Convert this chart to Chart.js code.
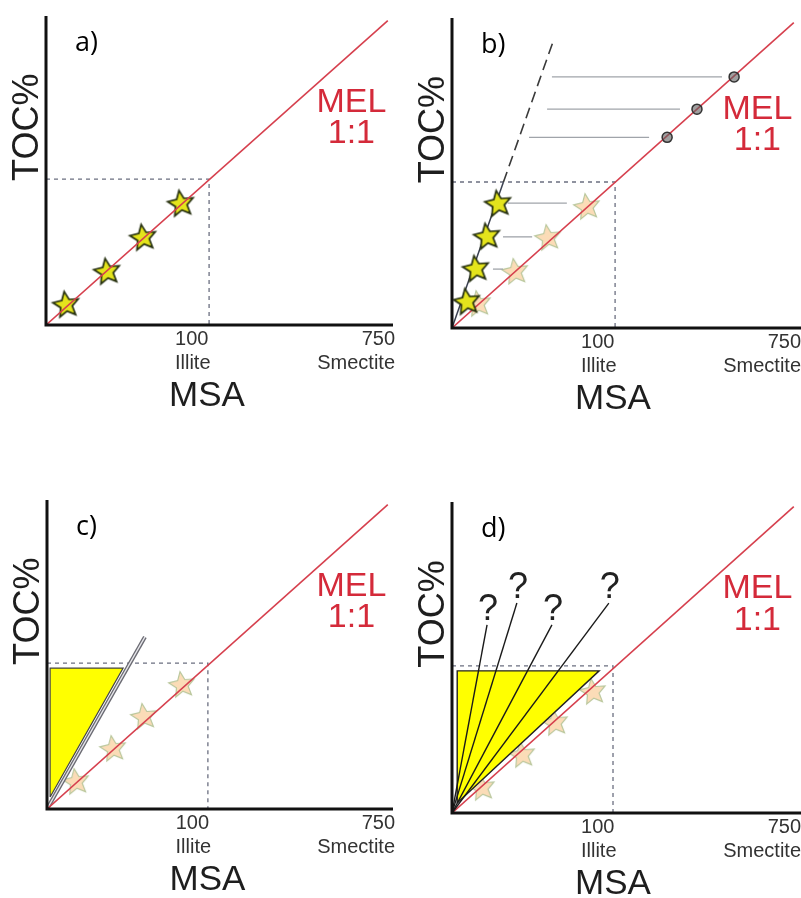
<!DOCTYPE html>
<html>
<head>
<meta charset="utf-8">
<script src="https://cdn.jsdelivr.net/npm/chart.js@4.4.1/dist/chart.umd.min.js"></script>
<style>
html,body{margin:0;padding:0;background:#fff;overflow:hidden;}
#wrap{position:relative;width:801px;height:898px;}
.pn{position:absolute;}
</style>
</head>
<body>
<div id="wrap">
  <div class="pn" style="left:0;top:0"><canvas id="ca" width="400" height="440"></canvas></div>
  <div class="pn" style="left:400px;top:0"><canvas id="cb" width="401" height="440"></canvas></div>
  <div class="pn" style="left:0;top:440px"><canvas id="cc" width="400" height="458"></canvas></div>
  <div class="pn" style="left:400px;top:440px"><canvas id="cd" width="401" height="458"></canvas></div>
</div>
<script>
// ---------- data (arbitrary schematic units, 0-100 on both axes) ----------
const panelLetters = ['a)', 'b)', 'c)', 'd)'];
const xTitle = 'MSA';
const yTitle = 'TOC%';
const xTickValues = [42, 100];
const xTickNumbers = ['100', '750'];
const xTickMinerals = ['Illite', 'Smectite'];
const melText = ['MEL', '1:1'];

// MEL 1:1 line
const melX = [0, 98.5];
const melY = [0, 98.5];

// dashed guide (corner at Illite reference)
const guideX = [47, 47, 46.5, 46.4];
const guideY = [47.2, 47.1, 47.2, 47.3];

// MEL label anchor per panel (x, y of "MEL" and "1:1")
const melLabelX = [88, 88, 88, 88];
const melLabelY = [72, 70.5, 72, 72];
const oneToOneY = [62, 60.5, 62, 62];

// a) samples on the 1:1 line
const aStarX = [5.8, 17.6, 28.0, 38.9];
const aStarY = [6.5, 17.2, 28.2, 39.2];

// b) samples shifted off the MEL line
const bShiftX = [4.3, 6.9, 10.1, 13.3];
const bShiftY = [8.4, 19.0, 29.4, 40.0];
const bOrigX = [7.5, 18.2, 27.7, 38.9];
const bOrigY = [7.7, 18.1, 29.0, 39.0];
const bSteepSolidX = [0, 14.8];
const bSteepSolidY = [0, 47];
const bSteepDashX = [14.8, 29.1];
const bSteepDashY = [47, 92.3];
const bLowConnY = [19.0, 29.4, 40.3];
const bLowConnX0 = [11.8, 14.7, 16.1];
const bLowConnX1 = [14.7, 23.1, 33.1];
const bHighConnY = [61.5, 70.6, 81.0];
const bHighConnX0 = [22.2, 27.4, 28.8];
const bHighConnX1 = [56.8, 65.7, 77.8];
const bCircleX = [62.0, 70.6, 81.3];
const bCircleY = [61.5, 70.6, 81.0];

// c) enriched field
const cTriX = [0.9, 0.9, 22.0, 0.9];
const cTriY = [3.9, 45.6, 45.6, 3.9];
const cLineX = [0, 28.3];
const cLineY = [0, 55.7];
const cStarX = [8.4, 19.1, 28.0, 39.0];
const cStarY = [8.7, 19.4, 29.8, 40.1];

// d) uncertain trends
const dTriX = [1.5, 1.5, 42.4, 1.5];
const dTriY = [3.2, 45.7, 45.7, 3.2];
const dRayEndX = [10.1, 18.7, 28.8, 45.2];
const dRayEndY = [60.5, 67.5, 60.5, 67.5];
const dStarX = [8.6, 20.2, 29.7, 40.6];
const dStarY = [8.0, 18.6, 28.9, 38.9];

// ---------- helpers ----------
const pts = (xs, ys) => xs.map((x, i) => ({x: x, y: ys[i]}));

function makeStar(outerR, innerR, fill, stroke, lw, rot) {
  const c = document.createElement('canvas');
  const s = Math.ceil(outerR * 2 + lw * 2 + 2);
  c.width = s; c.height = s;
  const g = c.getContext('2d');
  g.translate(s / 2, s / 2);
  g.rotate(rot);
  g.beginPath();
  for (let i = 0; i < 10; i++) {
    const r = i % 2 ? innerR : outerR;
    const a = -Math.PI / 2 + i * Math.PI / 5;
    g.lineTo(r * Math.cos(a), r * Math.sin(a));
  }
  g.closePath();
  g.fillStyle = fill; g.fill();
  g.lineJoin = 'miter';
  g.lineWidth = lw; g.strokeStyle = stroke; g.stroke();
  return c;
}
const yellowStar = makeStar(13.5, 6.2, '#e4e41c', '#26300f', 1.7, -0.15);
const paleStar = makeStar(13.5, 6.2, 'rgba(250,214,170,0.85)', '#b9c79c', 1.2, -0.15);

const RED = '#d6404e';

function line(xs, ys, color, width, dash, order) {
  return {type: 'line', data: pts(xs, ys), borderColor: color, borderWidth: width,
    borderDash: dash || [], pointRadius: 0, fill: false, tension: 0, order: order};
}
function stars(xs, ys, img, order) {
  return {type: 'line', data: pts(xs, ys), showLine: false, pointStyle: img,
    pointRadius: 12, order: order};
}
function tri(xs, ys, border, bw, order) {
  return {type: 'line', data: pts(xs, ys), borderColor: border, borderWidth: bw,
    backgroundColor: '#ffff00', fill: 'shape', pointRadius: 0, tension: 0, order: order};
}
function guide(i) {
  return line([0, guideX[i], guideX[i]], [guideY[i], guideY[i], 0], '#6b6f80', 1.3, [4, 4], 9);
}
function mel() { return line(melX, melY, RED, 1.6, [], 5); }

const annot = {
  id: 'annot',
  afterDatasetsDraw(chart, args, o) {
    const ctx = chart.ctx, ca = chart.chartArea, xs = chart.scales.x, ys = chart.scales.y;
    ctx.save();
    // axes
    ctx.strokeStyle = '#111'; ctx.lineWidth = 3; ctx.lineCap = 'butt';
    ctx.beginPath();
    ctx.moveTo(ca.left, ca.top);
    ctx.lineTo(ca.left, ca.bottom);
    ctx.lineTo(o.axisEnd || ca.right, ca.bottom);
    ctx.stroke();
    // panel letter
    ctx.fillStyle = '#000';
    ctx.font = '27px "Open Sans"';
    ctx.textAlign = 'left'; ctx.textBaseline = 'alphabetic';
    ctx.fillText(panelLetters[o.idx], ca.left + 29, ca.top + 35);
    // y title
    ctx.save();
    ctx.translate(ca.left - 18, ys.getPixelForValue(64));
    ctx.rotate(-Math.PI / 2);
    ctx.font = '36px "Liberation Sans"';
    ctx.fillStyle = '#1e1e1e';
    ctx.textAlign = 'center'; ctx.textBaseline = 'middle';
    ctx.fillText(yTitle, 0, 0);
    ctx.restore();
    // MEL label
    ctx.fillStyle = '#d42a3a';
    ctx.font = '34px "Liberation Sans"';
    ctx.textAlign = 'center'; ctx.textBaseline = 'middle';
    const mx = xs.getPixelForValue(melLabelX[o.idx]);
    ctx.fillText(melText[0], mx, ys.getPixelForValue(melLabelY[o.idx]));
    ctx.fillText(melText[1], mx, ys.getPixelForValue(oneToOneY[o.idx]));
    // x tick labels
    ctx.fillStyle = '#333';
    ctx.font = '20px "Liberation Sans"';
    xTickValues.forEach((v, i) => {
      const last = i === xTickValues.length - 1;
      ctx.textAlign = last ? 'right' : 'center';
      const px = last ? xs.getPixelForValue(v) + 2 : xs.getPixelForValue(v);
      ctx.fillText(xTickNumbers[i], px, ca.bottom + 14);
      ctx.fillText(xTickMinerals[i], px + (last ? 0 : 1), ca.bottom + 38);
    });
    // x title
    ctx.fillStyle = '#1e1e1e';
    ctx.font = '35px "Liberation Sans"';
    ctx.textAlign = 'center';
    ctx.fillText(xTitle, xs.getPixelForValue(46.4), ca.bottom + 71);
    // question marks (panel d)
    if (o.questions) {
      ctx.font = '36px "Liberation Sans"';
      ctx.textBaseline = 'alphabetic';
      ctx.fillStyle = '#222';
      dRayEndX.forEach((v, i) => {
        ctx.fillText('?', xs.getPixelForValue(v) + 1, ys.getPixelForValue(dRayEndY[i]) - 5);
      });
    }
    ctx.restore();
  }
};

function makeChart(id, idx, padding, datasets, extra) {
  const opts = Object.assign({idx: idx}, extra || {});
  return new Chart(document.getElementById(id), {
    type: 'line',
    data: {datasets: datasets},
    options: {
      responsive: false, animation: false, events: [],
      layout: {padding: padding, autoPadding: false},
      scales: {
        x: {type: 'linear', min: 0, max: 100, display: false},
        y: {type: 'linear', min: 0, max: 100, display: false}
      },
      plugins: {legend: {display: false}, tooltip: {enabled: false}, annot: opts}
    },
    plugins: [annot]
  });
}

// ---------- panel a ----------
makeChart('ca', 0, {left: 46, top: 16, right: 7, bottom: 115}, [
  guide(0),
  mel(),
  stars(aStarX, aStarY, yellowStar, 10)
]);

// ---------- panel b ----------
const bDs = [guide(1), mel(),
  stars(bOrigX, bOrigY, paleStar, 10),
  line(bSteepSolidX, bSteepSolidY, '#3a4050', 1.5, [], 4),
  line(bSteepDashX, bSteepDashY, '#3a3a3a', 1.6, [11, 6], 4),
  stars(bShiftX, bShiftY, yellowStar, 3)
];
bLowConnY.forEach((yv, i) => bDs.push(line([bLowConnX0[i], bLowConnX1[i]], [yv, yv], '#a0a4aa', 1.3, [], 6)));
bHighConnY.forEach((yv, i) => bDs.push(line([bHighConnX0[i], bHighConnX1[i]], [yv, yv], '#a0a4aa', 1.3, [], 6)));
bDs.push({type: 'line', data: pts(bCircleX, bCircleY), showLine: false, pointStyle: 'circle',
  pointRadius: 5, pointBackgroundColor: 'rgba(95,95,95,0.6)', pointBorderColor: '#333',
  pointBorderWidth: 1.5, order: 1});
makeChart('cb', 1, {left: 52, top: 18, right: 2, bottom: 112}, bDs, {axisEnd: 801});

// ---------- panel c ----------
makeChart('cc', 2, {left: 47, top: 60, right: 7, bottom: 89}, [
  guide(2),
  tri(cTriX, cTriY, '#444', 1.2, 8),
  line(cLineX, cLineY, '#6a6a72', 4, [], 6),
  line(cLineX, cLineY, '#e8e8ec', 1.3, [], 5.5),
  stars(cStarX, cStarY, paleStar, 10),
  mel()
]);

// ---------- panel d ----------
const dDs = [guide(3),
  stars(dStarX, dStarY, paleStar, 10),
  mel(),
  tri(dTriX, dTriY, '#222', 1.4, 8)
];
dRayEndX.forEach((xv, i) => dDs.push(line([0, xv], [0, dRayEndY[i]], '#1a1a1a', 1.4, [], 4)));
makeChart('cd', 3, {left: 52, top: 62, right: 2, bottom: 85}, dDs, {axisEnd: 801, questions: true});
</script>
</body>
</html>
